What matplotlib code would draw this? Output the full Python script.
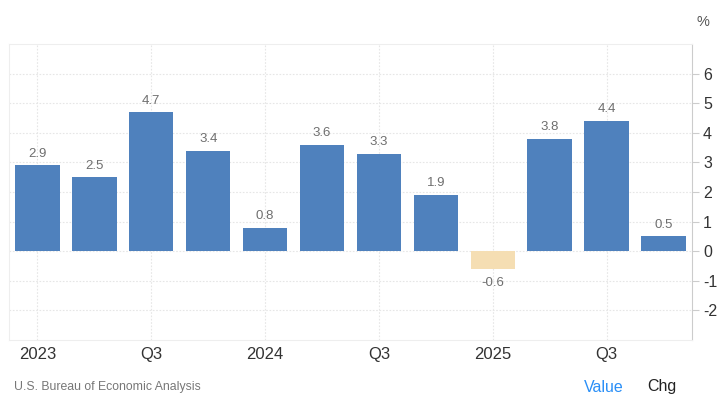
import matplotlib
matplotlib.use("Agg")
import matplotlib.pyplot as plt

plt.rcParams['font.family'] = ['Liberation Sans', 'DejaVu Sans']

quarters = ["2023 Q1", "2023 Q2", "2023 Q3", "2023 Q4",
            "2024 Q1", "2024 Q2", "2024 Q3", "2024 Q4",
            "2025 Q1", "2025 Q2", "2025 Q3", "2025 Q4"]
values = [2.9, 2.5, 4.7, 3.4, 0.8, 3.6, 3.3, 1.9, -0.6, 3.8, 4.4, 0.5]
tick_idx = [0, 2, 4, 6, 8, 10]
tick_labels = ["2023", "Q3", "2024", "Q3", "2025", "Q3"]
yticks = [-2, -1, 0, 1, 2, 3, 4, 5, 6]

fig = plt.figure(figsize=(7.22, 4.03), dpi=100)
ax = fig.add_axes([0.0125, 0.1563, 0.9459, 0.7345])

pos_color = "#4f81bd"
neg_color = "#f5deb3"
x = list(range(len(values)))
colors = [pos_color if v >= 0 else neg_color for v in values]
ax.bar(x, values, width=0.78, color=colors, zorder=3)

for xi, v in zip(x, values):
    if v >= 0:
        ax.annotate(f"{v:.1f}", (xi, v), xytext=(0, 4), textcoords="offset points",
                    ha="center", va="bottom", fontsize=9.5, color="#6e6e6e")
    else:
        ax.annotate(f"{v:.1f}", (xi, v), xytext=(0, -6), textcoords="offset points",
                    ha="center", va="top", fontsize=9.5, color="#6e6e6e")

ax.set_xlim(-0.5, len(values) - 0.5)
ax.set_ylim(-3, 7)
ax.set_yticks(yticks)
ax.set_yticklabels([str(t) for t in yticks])
ax.yaxis.tick_right()
ax.set_xticks(tick_idx)
ax.set_xticklabels(tick_labels)
ax.tick_params(axis='y', length=5, color="#cccccc", labelsize=11.5, labelcolor="#333333", pad=3)
ax.tick_params(axis='x', length=0, labelsize=12, labelcolor="#333333", pad=5)

ax.grid(True, axis='both', color="#e6e6e6", linestyle=(0, (1.5, 1.5)), linewidth=0.8, zorder=0)
for s in ['top', 'left', 'bottom']:
    ax.spines[s].set_color("#eeeeee")
    ax.spines[s].set_linewidth(0.8)
ax.spines['right'].set_color("#cccccc")
ax.spines['right'].set_linewidth(0.8)

fig.text(703 / 722, 1 - 22 / 403, "%", ha="center", va="center", fontsize=10.5, color="#555555")
fig.text(14 / 722, 1 - 387 / 403, "U.S. Bureau of Economic Analysis", ha="left", va="center",
         fontsize=8.8, color="#777777")
fig.text(604 / 722, 1 - 387 / 403, "Value", ha="center", va="center", fontsize=11.5, color="#2a8ff7")
fig.text(662 / 722, 1 - 387 / 403, "Chg", ha="center", va="center", fontsize=11.5, color="#222222")

fig.savefig("out.png", dpi=100)
